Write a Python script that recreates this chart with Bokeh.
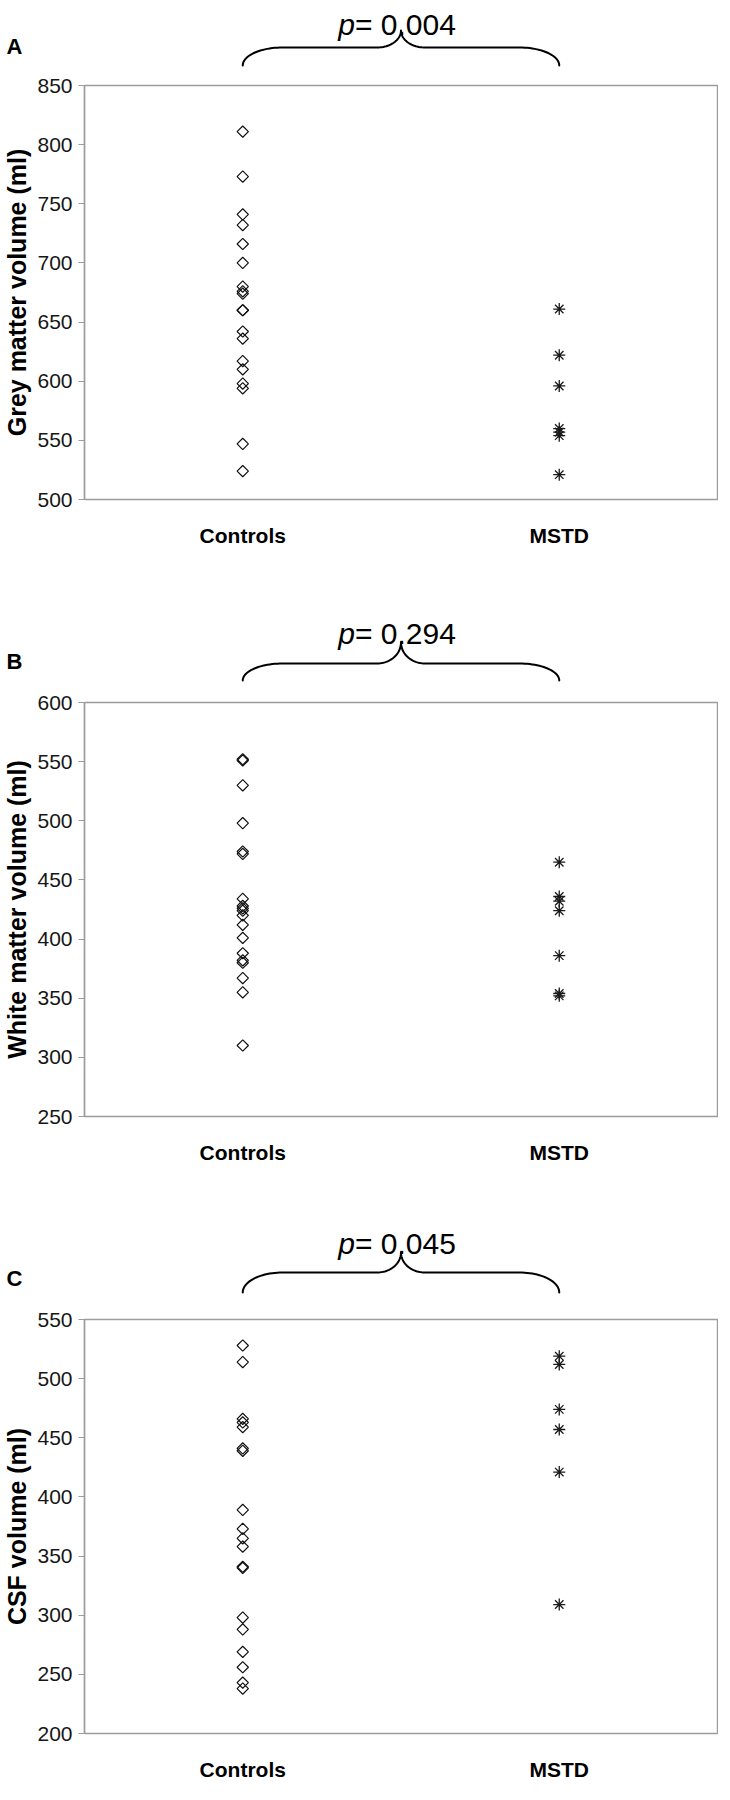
import numpy as np
from bokeh.plotting import figure
from bokeh.models import Range1d, FactorRange, SingleIntervalTicker, FixedTicker
from bokeh.layouts import column
from bokeh.embed import file_html
from bokeh.resources import INLINE
from bokeh.core.properties import value

# ---------------- data ----------------
categories = ["Controls", "MSTD"]
panel_letters = ["A", "B", "C"]
p_values = ["0.004", "0.294", "0.045"]
y_titles = ["Grey matter volume (ml)", "White matter volume (ml)", "CSF volume (ml)"]
y_mins = [500, 250, 200]
y_maxs = [850, 600, 550]
y_step = 50

grey_controls = [811, 773, 741, 732, 716, 700, 680, 676, 674, 660, 660, 642, 636, 617, 610, 598, 594, 547, 524]
grey_mstd = [661, 622, 596, 560, 557, 554, 521]
white_controls = [552, 551, 530, 498, 474, 472, 434, 428, 426, 424, 420, 412, 401, 388, 382, 380, 367, 355, 310]
white_mstd = [465, 436, 432, 424, 386, 354, 352]
csf_controls = [528, 514, 466, 463, 459, 441, 439, 389, 373, 365, 358, 341, 340, 298, 288, 269, 256, 243, 238]
csf_mstd = [519, 512, 474, 457, 421, 309]

controls_series = [grey_controls, white_controls, csf_controls]
mstd_series = [grey_mstd, white_mstd, csf_mstd]

# ---------------- layout / style ----------------
FONT = "Liberation Sans"
W = 718
BL, BR, BT, BB = 80, 1, 14, 42
MAIN_H = 478
FW = W - BL - BR
PPU = FW / len(categories)
BRACE_H = [71, 139, 139]
# offsets above the plot frame: text baseline, brace tip, brace line, brace ends, letter middle
BRACE_OFFS = [(61, 55, 38, 20, 39), (69, 60, 39, 22, 41), (76, 67, 47, 27, 41)]
FRAME_COLOR = "#9c9c9c"


def brace_fig(h, letter, pval, offs):
    text_off, tip_off, line_off, end_off, letter_off = offs
    base = h + BT
    n = len(categories)
    b = figure(width=W, height=h, title=None, toolbar_location=None, tools="",
               output_backend="svg",
               x_range=Range1d(0, n), y_range=Range1d(h, 0),
               x_axis_location=None, y_axis_location="left",
               min_border_left=BL, min_border_right=BR,
               min_border_top=0, min_border_bottom=0)
    b.grid.visible = False
    b.outline_line_color = None
    b.background_fill_color = "white"
    b.border_fill_color = "white"

    # panel letter drawn as the single tick label of an otherwise invisible axis
    yc = float(base - letter_off)
    la = b.yaxis[0]
    la.ticker = FixedTicker(ticks=[yc])
    la.major_label_overrides = {yc: letter}
    la.axis_line_color = None
    la.major_tick_line_color = None
    la.minor_tick_line_color = None
    la.major_tick_out = 0
    la.major_tick_in = 0
    la.major_label_standoff = BL - 18
    la.major_label_text_font = FONT
    la.major_label_text_font_style = "bold"
    la.major_label_text_font_size = "22px"
    la.major_label_text_color = "black"

    mid = n / 2.0
    half = 0.5 * PPU * (n - 1)
    rx, rt = 40.0, 24.0
    y_end = base - end_off
    y_line = base - line_off
    y_tip = base - tip_off
    t = np.linspace(0, np.pi / 2, 25)
    x1 = -half + rx * (1 - np.cos(t))
    y1 = y_line + (y_end - y_line) * (1 - np.sin(t))
    x2 = -rt + rt * np.sin(t)
    y2 = y_line - (y_line - y_tip) * (1 - np.cos(t))
    xl = np.concatenate([x1, x2])
    yl = np.concatenate([y1, y2])
    xs = np.concatenate([xl, -xl[::-1]])
    ys = np.concatenate([yl, yl[::-1]])
    b.line(mid + xs / PPU, ys, line_color="black", line_width=2,
           line_join="round", line_cap="round")

    yb = base - text_off
    b.text(x=[mid], y=[yb], text=["p"], text_align="right", text_baseline="alphabetic",
           x_offset=-46, text_font=value(FONT), text_font_style="italic",
           text_font_size="30px", text_color="black")
    b.text(x=[mid], y=[yb], text=["= " + pval], text_align="left", text_baseline="alphabetic",
           x_offset=-46, text_font=value(FONT), text_font_style="normal",
           text_font_size="30px", text_color="black")
    return b


def main_fig(i):
    p = figure(width=W, height=MAIN_H, title=None, toolbar_location=None, tools="",
               output_backend="svg",
               x_range=FactorRange(*categories),
               y_range=Range1d(y_mins[i], y_maxs[i]),
               min_border_left=BL, min_border_right=BR,
               min_border_top=BT, min_border_bottom=BB)
    p.grid.visible = False
    p.outline_line_color = FRAME_COLOR
    p.outline_line_width = 1.4
    p.background_fill_color = "white"
    p.border_fill_color = "white"

    ya = p.yaxis[0]
    ya.ticker = SingleIntervalTicker(interval=y_step)
    ya.axis_line_color = FRAME_COLOR
    ya.axis_line_width = 1.4
    ya.major_tick_line_color = FRAME_COLOR
    ya.major_tick_out = 6
    ya.major_tick_in = 0
    ya.minor_tick_line_color = None
    ya.major_label_standoff = 6
    ya.major_label_text_font = FONT
    ya.major_label_text_font_size = "21px"
    ya.major_label_text_color = "#161616"
    ya.axis_label = y_titles[i]
    ya.axis_label_text_font = FONT
    ya.axis_label_text_font_style = "bold"
    ya.axis_label_text_font_size = "25px"
    ya.axis_label_text_color = "black"
    ya.axis_label_standoff = 3

    xa = p.xaxis[0]
    xa.axis_line_color = None
    xa.major_tick_line_color = None
    xa.minor_tick_line_color = None
    xa.major_label_standoff = 18
    xa.major_label_text_font = FONT
    xa.major_label_text_font_style = "bold"
    xa.major_label_text_font_size = "21px"
    xa.major_label_text_color = "black"

    ctrl = controls_series[i]
    mstd = mstd_series[i]
    p.scatter(x=[categories[0]] * len(ctrl), y=ctrl, marker="square", angle=np.pi / 4,
              size=8, fill_color=None, line_color="#111111", line_width=1.2)
    p.scatter(x=[categories[1]] * len(mstd), y=mstd, marker="asterisk",
              size=12, line_color="#1a1a1a", line_width=1.3)
    return p


children = []
for i in range(3):
    children.append(brace_fig(BRACE_H[i], panel_letters[i], p_values[i], BRACE_OFFS[i]))
    children.append(main_fig(i))

layout = column(*children, spacing=0)
open("out.html", "w").write(file_html(layout, INLINE))
